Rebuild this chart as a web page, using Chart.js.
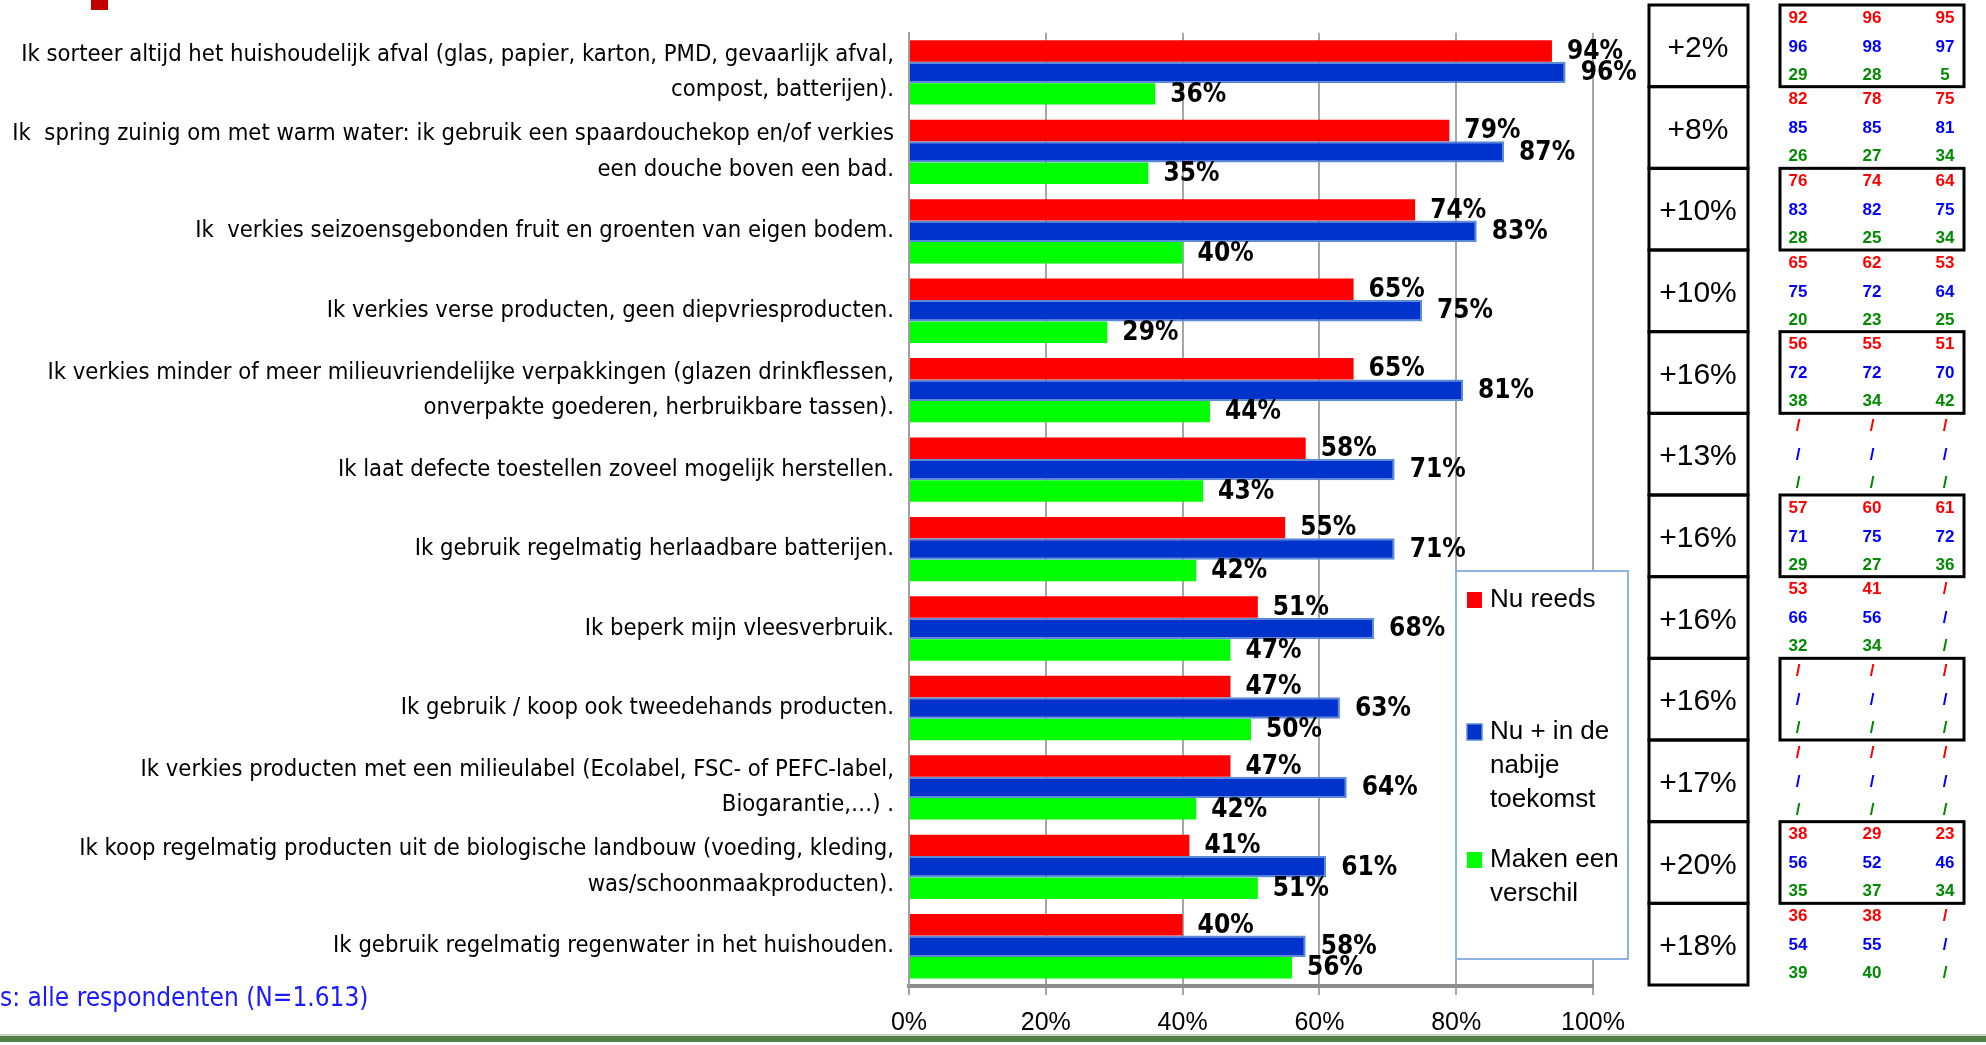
<!DOCTYPE html>
<html>
<head>
<meta charset="utf-8">
<script src="https://cdn.jsdelivr.net/npm/chart.js@4.4.1/dist/chart.umd.min.js"></script>
<style>
  html, body { margin: 0; padding: 0; background: #ffffff; }
  #wrap { position: relative; width: 1986px; height: 1045px; }
</style>
</head>
<body>
<div id="wrap"><canvas id="c" width="1986" height="1045"></canvas></div>
<script>
const categories = [
  ['Ik sorteer altijd het huishoudelijk afval (glas, papier, karton, PMD, gevaarlijk afval,', 'compost, batterijen).'],
  ['Ik  spring zuinig om met warm water: ik gebruik een spaardouchekop en/of verkies', 'een douche boven een bad.'],
  'Ik  verkies seizoensgebonden fruit en groenten van eigen bodem.',
  'Ik verkies verse producten, geen diepvriesproducten.',
  ['Ik verkies minder of meer milieuvriendelijke verpakkingen (glazen drinkflessen,', 'onverpakte goederen, herbruikbare tassen).'],
  'Ik laat defecte toestellen zoveel mogelijk herstellen.',
  'Ik gebruik regelmatig herlaadbare batterijen.',
  'Ik beperk mijn vleesverbruik.',
  'Ik gebruik / koop ook tweedehands producten.',
  ['Ik verkies producten met een milieulabel (Ecolabel, FSC- of PEFC-label,', 'Biogarantie,…) .'],
  ['Ik koop regelmatig producten uit de biologische landbouw (voeding, kleding,', 'was/schoonmaakproducten).'],
  'Ik gebruik regelmatig regenwater in het huishouden.'
];
const nuReeds       = [94, 79, 74, 65, 65, 58, 55, 51, 47, 47, 41, 40];
const nuEnToekomst  = [96, 87, 83, 75, 81, 71, 71, 68, 63, 64, 61, 58];
const makenVerschil = [36, 35, 40, 29, 44, 43, 42, 47, 50, 42, 51, 56];
const verschil = ['+2%', '+8%', '+10%', '+10%', '+16%', '+13%', '+16%', '+16%', '+16%', '+17%', '+20%', '+18%'];
const xTickLabels = ['0%', '20%', '40%', '60%', '80%', '100%'];
const seriesNames = ['Nu reeds', 'Nu + in de nabije toekomst', 'Maken een verschil'];
const legendLines = [['Nu reeds'], ['Nu + in de', 'nabije', 'toekomst'], ['Maken een', 'verschil']];
const histRed = [[92,96,95],[82,78,75],[76,74,64],[65,62,53],[56,55,51],[null,null,null],[57,60,61],[53,41,null],[null,null,null],[null,null,null],[38,29,23],[36,38,null]];
const histBlue = [[96,98,97],[85,85,81],[83,82,75],[75,72,64],[72,72,70],[null,null,null],[71,75,72],[66,56,null],[null,null,null],[null,null,null],[56,52,46],[54,55,null]];
const histGreen = [[29,28,5],[26,27,34],[28,25,34],[20,23,25],[38,34,42],[null,null,null],[29,27,36],[32,34,null],[null,null,null],[null,null,null],[35,37,34],[39,40,null]];
const footnote = 's: alle respondenten (N=1.613)';

const NARROW = "'Liberation Sans Narrow', 'DejaVu Sans Condensed', sans-serif";
const SANS = "'Liberation Sans', Arial, sans-serif";

const extras = {
  id: 'extras',
  afterDatasetsDraw(chart) {
    const ctx = chart.ctx;
    ctx.save();
    ctx.font = 'bold 26px ' + NARROW;
    ctx.fillStyle = '#000000';
    ctx.textAlign = 'left';
    ctx.textBaseline = 'middle';
    chart.data.datasets.forEach((ds, di) => {
      const meta = chart.getDatasetMeta(di);
      meta.data.forEach((bar, i) => {
        ctx.fillText(ds.data[i] + '%', bar.x + 15, bar.y + 1);
      });
    });
    ctx.restore();
  },
  afterDraw(chart) {
    const ctx = chart.ctx;
    ctx.save();
    // top-left marker
    ctx.fillStyle = '#c00000';
    ctx.fillRect(91, 0, 17, 10);

    // footnote
    ctx.fillStyle = '#1a1aff';
    ctx.font = '26px ' + NARROW;
    ctx.textAlign = 'left';
    ctx.textBaseline = 'middle';
    ctx.fillText(footnote, 0, 999);

    // bottom band
    ctx.fillStyle = '#c9d6c4';
    ctx.fillRect(0, 1034, 1986, 2);
    ctx.fillStyle = '#54804b';
    ctx.fillRect(0, 1036, 1986, 6);

    // legend
    const lx = 1456, ly = 571, lw = 172, lh = 388;
    ctx.fillStyle = '#ffffff';
    ctx.fillRect(lx, ly, lw, lh);
    ctx.strokeStyle = '#8db3e2';
    ctx.lineWidth = 2;
    ctx.strokeRect(lx, ly, lw, lh);
    const itemY = [600, 732, 860];
    ctx.font = '26px ' + SANS;
    ctx.textBaseline = 'middle';
    ctx.textAlign = 'left';
    chart.data.datasets.forEach((ds, di) => {
      const y = itemY[di];
      ctx.fillStyle = ds.backgroundColor;
      ctx.fillRect(1467, y - 8, 15, 16);
      if (ds.borderWidth) {
        ctx.strokeStyle = ds.borderColor;
        ctx.lineWidth = 1.5;
        ctx.strokeRect(1467, y - 8, 15, 16);
      }
      ctx.fillStyle = '#000000';
      legendLines[di].forEach((t, k) => ctx.fillText(t, 1490, y + k * 34));
    });

    // difference column
    const rows = verschil.length;
    const top = 5, bottom = 985;
    const rh = (bottom - top) / rows;
    ctx.strokeStyle = '#000000';
    ctx.lineWidth = 3;
    for (let r = 0; r < rows; r++) {
      ctx.strokeRect(1649, top + r * rh, 99, rh);
    }
    ctx.fillStyle = '#000000';
    ctx.font = '30px ' + SANS;
    ctx.textAlign = 'center';
    verschil.forEach((t, r) => ctx.fillText(t, 1698, top + r * rh + rh / 2 + 3));

    // historical table
    const colX = [1798, 1872, 1945];
    ctx.font = 'bold 17px ' + SANS;
    const sets = [[histRed, '#ff0000', 13], [histBlue, '#0000ff', 42], [histGreen, '#008a00', 70]];
    for (let r = 0; r < rows; r++) {
      const y0 = top + r * rh;
      sets.forEach(([arr, col, off]) => {
        ctx.fillStyle = col;
        arr[r].forEach((v, c) => {
          ctx.fillText(v === null ? '/' : String(v), colX[c], y0 + off);
        });
      });
      if (r % 2 === 0) {
        ctx.strokeStyle = '#000000';
        ctx.lineWidth = 3;
        ctx.strokeRect(1780, y0, 184, rh);
      }
    }
    ctx.restore();
  }
};

new Chart(document.getElementById('c'), {
  type: 'bar',
  data: {
    labels: categories,
    datasets: [
      { label: seriesNames[0], data: nuReeds, backgroundColor: '#ff0000', borderWidth: 0 },
      { label: seriesNames[1], data: nuEnToekomst, backgroundColor: '#0033cc', borderColor: '#5b8ad6', borderWidth: 2 },
      { label: seriesNames[2], data: makenVerschil, backgroundColor: '#00ff00', borderWidth: 0 }
    ]
  },
  options: {
    indexAxis: 'y',
    responsive: false,
    animation: false,
    devicePixelRatio: 1,
    layout: { padding: { top: 32, right: 393, left: 0, bottom: 0 } },
    plugins: { legend: { display: false }, tooltip: { enabled: false } },
    datasets: { bar: { categoryPercentage: 0.81, barPercentage: 1.0 } },
    scales: {
      x: {
        min: 0, max: 100,
        ticks: {
          stepSize: 20,
          callback: (v, i) => xTickLabels[i],
          color: '#000000',
          font: { family: SANS, size: 25 },
          padding: 13,
          maxRotation: 0
        },
        grid: { color: '#a6a6a6', lineWidth: 2, tickLength: 9, drawTicks: true },
        border: { display: true, color: '#8c8c8c', width: 4 },
        afterFit: (s) => { s.height = 59; }
      },
      y: {
        ticks: {
          color: '#000000',
          font: { family: NARROW, size: 23.6, lineHeight: 1.5 },
          padding: 15,
          autoSkip: false
        },
        grid: { display: false, drawTicks: false },
        border: { display: true, color: '#a0a0a0', width: 2 },
        afterFit: (s) => { s.width = 909; }
      }
    }
  },
  plugins: [extras]
});
</script>
</body>
</html>
